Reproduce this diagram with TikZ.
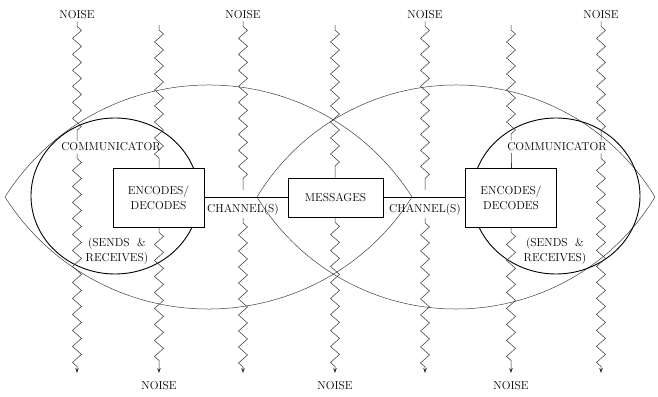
\documentclass[tikz,border=0pt]{standalone}
\usepackage{fontspec}
\usetikzlibrary{arrows.meta, decorations.pathmorphing, calc}

\begin{document}
\begin{tikzpicture}[
  x=1pt, y=1pt,
  txt/.style={font=\fontsize{11.5}{15}\selectfont, align=center, inner sep=2pt},
  codebox/.style={draw, line width=0.9pt, fill=white, minimum width=91pt, minimum height=59pt, align=center, font=\fontsize{11.5}{15}\selectfont},
  msgbox/.style={codebox, minimum width=95pt, minimum height=39pt},
  lens/.style={draw=black!75, line width=0.5pt},
  person/.style={draw, line width=0.9pt},
  noise/.style={draw=black!80, line width=0.5pt, decorate, decoration={zigzag, segment length=16pt, amplitude=4.5pt, pre length=5pt, post length=6pt}},
  noisearrow/.style={noise, -{Stealth[length=5pt, width=3.5pt]}}
]

\useasboundingbox (0,0) rectangle (658,396);

% Overlapping fields (lenses)
\draw[lens] (5,199) arc[start angle=147.65, end angle=32.35, radius=240.9]
                    arc[start angle=-32.35, end angle=-147.65, radius=240.9];
\draw[lens] (257,199) arc[start angle=148.74, end angle=31.26, radius=232.8]
                      arc[start angle=-31.26, end angle=-148.74, radius=232.8];

% Communicators
\draw[person] (115,200) ellipse[x radius=84, y radius=78];
\draw[person] (556,200) ellipse[x radius=84, y radius=78];

% Texts inside the communicators
\node[txt] (commL) at (111,249) {COMMUNICATOR};
\node[txt] (sendL) at (117,145) {(SENDS~~\&\\RECEIVES)};
\node[txt] (commR) at (557,249) {COMMUNICATOR};
\node[txt] (sendR) at (555,145) {(SENDS~~\&\\RECEIVES)};

% Boxes
\node[codebox] (encL) at (158.5,198.5) {ENCODES/\\DECODES};
\node[msgbox]  (msg)  at (335.5,198.5) {MESSAGES};
\node[codebox] (encR) at (511,198.5) {ENCODES/\\DECODES};

% Channels
\draw[line width=0.6pt] (encL) -- (msg);
\draw[line width=0.6pt] (msg) -- (encR);
\node[txt] (chL) at (243,186) {CHANNEL(S)};
\node[txt] (chR) at (425,186) {CHANNEL(S)};

% Noise labels
\node[txt] (nT1) at (77,381)  {NOISE};
\node[txt] (nT2) at (243,381) {NOISE};
\node[txt] (nT3) at (425,381) {NOISE};
\node[txt] (nT4) at (601,381) {NOISE};
\node[txt] (nB1) at (159,10)  {NOISE};
\node[txt] (nB2) at (335,10)  {NOISE};
\node[txt] (nB3) at (511,10)  {NOISE};

% Free ends of the noise lines
\coordinate (t2) at (159,371);
\coordinate (t4) at (335,371);
\coordinate (t6) at (511,371);
\coordinate (g3) at (243,206);
\coordinate (g5) at (425,206);
\foreach \x [count=\i] in {77,159,243,335,425,511,601}
  \coordinate (e\i) at (\x,23);

% Noise lines, upper parts
\draw[noise] (nT1.south) -- (nT1 |- commL.north);
\draw[noise] (t2) -- (encL.north -| t2);
\draw[noise] (nT2.south) -- (g3);
\draw[noise] (t4) -- (msg.north -| t4);
\draw[noise] (nT3.south) -- (g5);
\draw[noise] (t6) -- (t6 |- commR.north);
\draw[noise] (t6 |- commR.south) -- (encR.north -| t6);
\draw[noise] (nT4.south) -- (nT4 |- commR.north);

% Noise lines, lower parts
\draw[noisearrow] (nT1 |- commL.south) -- (e1);
\draw[noisearrow] (encL.south -| e2) -- (e2);
\draw[noisearrow] (chL.south) -- (e3);
\draw[noisearrow] (msg.south -| e4) -- (e4);
\draw[noisearrow] (chR.south) -- (e5);
\draw[noisearrow] (encR.south -| e6) -- (e6);
\draw[noisearrow] (nT4 |- commR.south) -- (e7);

\end{tikzpicture}
\end{document}
